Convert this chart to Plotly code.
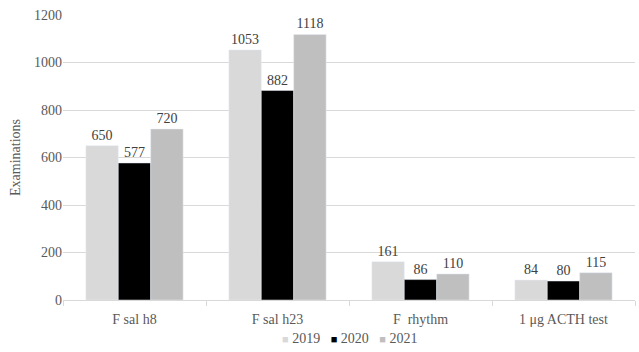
import plotly.graph_objects as go

categories = ["F sal h8", "F sal h23", "F  rhythm", "1 μg ACTH test"]
years = ["2019", "2020", "2021"]
v2019 = [650, 1053, 161, 84]
v2020 = [577, 882, 86, 80]
v2021 = [720, 1118, 110, 115]
colors = ["#d9d9d9", "#000000", "#bfbfbf"]

font_family = "Liberation Serif, DejaVu Serif, serif"
fig = go.Figure()
for name, vals, c in zip(years, [v2019, v2020, v2021], colors):
    fig.add_trace(go.Bar(
        x=categories, y=vals, name=name, marker_color=c,
        text=[str(v) for v in vals], textposition="outside",
        textfont=dict(color="#404040", size=14, family=font_family),
        cliponaxis=False, showlegend=False,
    ))

legend_text = "&nbsp;&nbsp;&nbsp;".join(
    f"<span style='color:{c};font-size:11px'>■</span>&nbsp;{y}" for y, c in zip(years, colors)
)
fig.add_annotation(text=legend_text, xref="paper", yref="paper", x=0.5, y=-0.135,
                   xanchor="center", yanchor="middle", showarrow=False,
                   font=dict(size=14, color="#595959", family=font_family))

fig.update_layout(
    width=639, height=352,
    margin=dict(l=63, r=4, t=15, b=52, autoexpand=False),
    barmode="group", bargap=0.32, bargroupgap=0,
    plot_bgcolor="white", paper_bgcolor="white",
    font=dict(family=font_family, color="#595959", size=14),
    yaxis=dict(range=[0, 1200], dtick=200, gridcolor="#d9d9d9", gridwidth=1,
               zeroline=False, showline=False, ticks="",
               title=dict(text="Examinations", standoff=10, font=dict(size=14)),
               tickfont=dict(size=14)),
    xaxis=dict(showline=True, linecolor="#d9d9d9", ticks="outside", tickcolor="#d9d9d9",
               ticklen=5, tickson="boundaries", tickfont=dict(size=14),
               ticklabelstandoff=6),
)
fig.write_html("out.html")
